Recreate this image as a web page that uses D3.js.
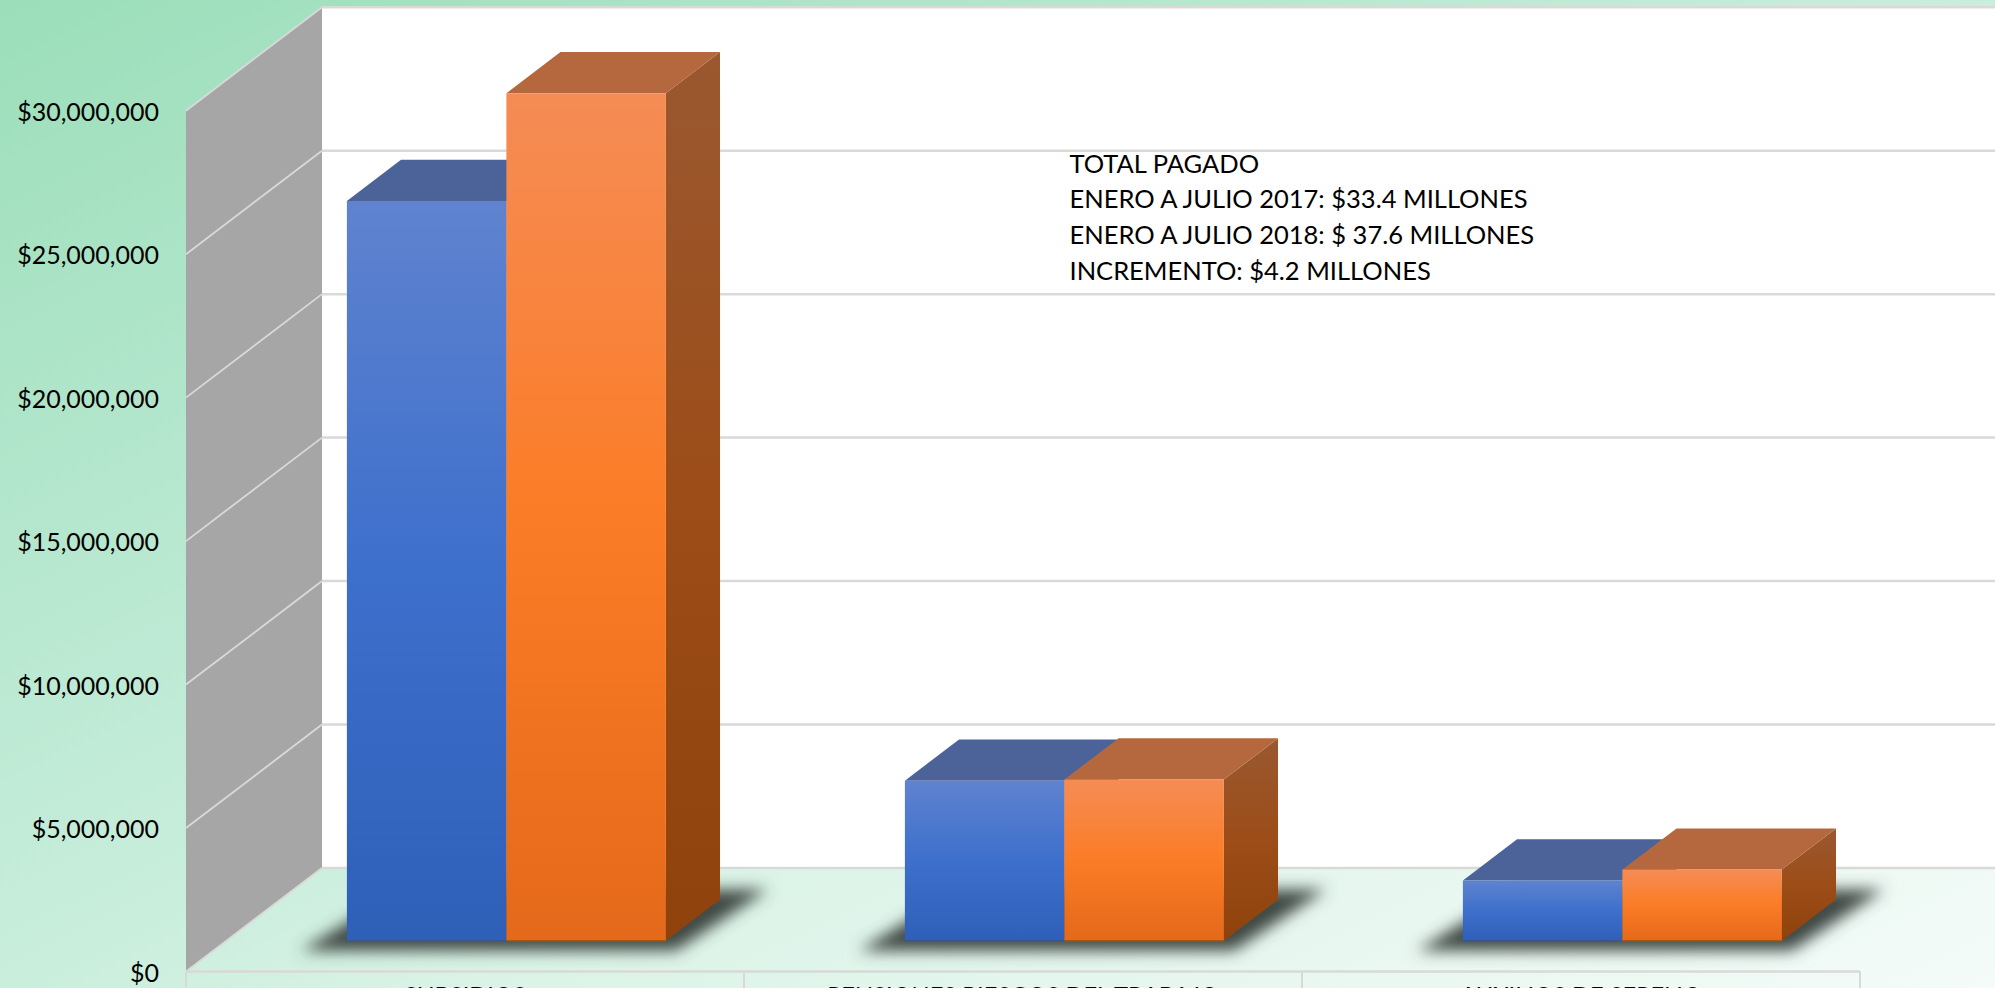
<!DOCTYPE html>
<html>
<head>
<meta charset="utf-8">
<script src="https://d3js.org/d3.v7.min.js"></script>
<style>
  html, body { margin: 0; padding: 0; overflow: hidden; background: #fff; }
  svg { display: block; }
  text { font-family: Lato, "Open Sans", sans-serif; fill: #000; }
</style>
</head>
<body>
<div id="chart"></div>
<script>
const categories = ["SUBSIDIOS", "PENSIONES RIESGOS DEL TRABAJO", "AUXILIOS DE SEPELIO"];
const seriesNames = ["2017", "2018"];
const values2017 = [25780000, 5580000, 2100000];
const values2018 = [29540000, 5620000, 2480000];
const tickValues = [0, 5000000, 10000000, 15000000, 20000000, 25000000, 30000000];
const noteLines = [
  "TOTAL PAGADO",
  "ENERO A JULIO 2017: $33.4 MILLONES",
  "ENERO A JULIO 2018: $ 37.6 MILLONES",
  "INCREMENTO: $4.2 MILLONES"
];

const width = 1995, height = 988;
const svg = d3.select("#chart").append("svg")
  .attr("width", width)
  .attr("height", height);
const defs = svg.append("defs");

function gradient(id, stops, x2, y2) {
  const g = defs.append("linearGradient").attr("id", id)
    .attr("x1", 0).attr("y1", 0).attr("x2", x2).attr("y2", y2);
  stops.forEach(s => g.append("stop").attr("offset", s[0]).attr("stop-color", s[1]));
}
gradient("bg", [[0, "#9bdeb9"], [0.25, "#b2e6cc"], [0.5, "#c9eedc"], [0.62, "#dbf3e7"], [1, "#f4fbf8"]], 1, 1);
gradient("front2017", [[0, "#5f83cf"], [0.5, "#3d6fcc"], [1, "#2f60b8"]], 0, 1);
gradient("front2018", [[0, "#f58c55"], [0.5, "#fb7c26"], [1, "#e4691a"]], 0, 1);
gradient("side", [[0, "#9a5830"], [0.5, "#9c4d18"], [1, "#8f420c"]], 0, 1);
defs.append("filter").attr("id", "blur")
  .attr("x", "-20%").attr("y", "-40%").attr("width", "140%").attr("height", "180%")
  .append("feGaussianBlur").attr("stdDeviation", 7.5);

// scales
const x = d3.scaleBand().domain(categories).range([186, 1860]);
const y = d3.scaleLinear().domain([0, 30000000]).range([971.5, 110.7]);
const barX = d3.scaleBand().domain(seriesNames).range([0, 319]);

// the oblique box: everything sits somewhere between z=0 (front) and z=1 (back wall)
const depthX = d3.scaleLinear().domain([0, 1]).range([0, 136]);
const depthY = d3.scaleLinear().domain([0, 1]).range([0, -103.5]);
const barFront = 0.297, barBack = 0.695;
const project = (px, py, z) => [px + depthX(z), py + depthY(z)];
const poly = pts => "M" + pts.map(p => p.join(",")).join("L") + "Z";

svg.append("rect").attr("width", width).attr("height", height).attr("fill", "url(#bg)");

// back wall and side wall
const x0 = x.range()[0], x1 = x.range()[1];
const yTop = y(30000000), yBase = y(0);
svg.append("path")
  .attr("d", poly([project(x0, yTop, 1), project(x1, yTop, 1), project(x1, yBase, 1), project(x0, yBase, 1)]))
  .attr("fill", "#fff");
svg.append("path")
  .attr("d", poly([project(x0, yTop, 0), project(x0, yTop, 1), project(x0, yBase, 1), project(x0, yBase, 0)]))
  .attr("fill", "#a6a6a6");

// gridlines
const grid = svg.append("g").attr("fill", "none").attr("stroke", "#d9d9d9");
tickValues.forEach(t => {
  grid.append("path")
    .attr("stroke-width", 2.5)
    .attr("d", d3.line()([project(x0, y(t), 1), project(x1, y(t), 1)]));
  grid.append("path")
    .attr("stroke-width", 1.8)
    .attr("d", d3.line()([project(x0, y(t), 0), project(x0, y(t), 1)]));
});
grid.append("path").attr("stroke-width", 2.5)
  .attr("d", d3.line()([project(x0, yBase, 0), project(x1, yBase, 0)]));
x.domain().concat("end").forEach(c => {
  const px = c === "end" ? x1 : x(c);
  grid.append("path").attr("stroke-width", 2)
    .attr("d", d3.line()([[px, yBase], [px, height]]));
});

// blurred shadows on the floor, one under each pair of bars
const groupLeft = c => x(c) + (x.bandwidth() - barX.range()[1]) / 2 + 1;
svg.append("g").selectAll("path").data(categories).join("path")
  .attr("fill", "#3f4a45")
  .attr("filter", "url(#blur)")
  .attr("d", c => {
    const l = groupLeft(c), r = l + barX.range()[1];
    return poly([
      project(l - 46, yBase + 10, barFront),
      project(r + 10, yBase + 10, barFront),
      project(r + 48, yBase - 10, barBack),
      project(l, yBase - 10, barBack)
    ]);
  });

// bars, 2017 first so that 2018 covers its side
const valueBySeries = { "2017": values2017, "2018": values2018 };
categories.forEach((c, i) => {
  const g = svg.append("g");
  seriesNames.forEach(s => {
    const v = valueBySeries[s][i];
    const l = groupLeft(c) + barX(s), r = l + barX.bandwidth();
    const top = y(v), bot = y(0);
    const frontTL = project(l, top, barFront), frontTR = project(r, top, barFront);
    const frontBL = project(l, bot, barFront), frontBR = project(r, bot, barFront);
    const backTL = project(l, top, barBack), backTR = project(r, top, barBack);
    const backBR = project(r, bot, barBack);
    g.append("path").attr("d", poly([frontTR, backTR, backBR, frontBR])).attr("fill", "url(#side)");
    g.append("path").attr("d", poly([frontTL, frontTR, backTR, backTL]))
      .attr("fill", s === "2017" ? "#4c6399" : "#b5683e");
    g.append("path").attr("d", poly([frontTL, frontTR, frontBR, frontBL]))
      .attr("fill", `url(#front${s})`);
    g.append("path").attr("d", d3.line()([frontBL, frontBR]))
      .attr("stroke", s === "2017" ? "#3a5590" : "#a85412").attr("stroke-width", 1.5);
  });
});

// axes
const yAxis = svg.append("g")
  .attr("transform", `translate(${x0},0)`)
  .call(d3.axisLeft(y).tickValues(tickValues).tickSize(0).tickPadding(27)
    .tickFormat(d => "$" + d3.format(",")(d)));
yAxis.select(".domain").remove();
yAxis.selectAll("text").attr("dy", "0.38em").attr("font-size", 25).attr("fill", "#000");
const xAxis = svg.append("g")
  .attr("transform", `translate(0,${yBase})`)
  .call(d3.axisBottom(x).tickSize(0).tickPadding(15.5));
xAxis.select(".domain").remove();
xAxis.selectAll("text").attr("font-size", 23.7).attr("fill", "#000");

svg.append("g").selectAll("text").data(noteLines).join("text")
  .attr("x", 1069.5)
  .attr("y", (d, i) => 172.7 + i * 35.6)
  .attr("font-size", 25.5)
  .text(d => d);
</script>
</body>
</html>
